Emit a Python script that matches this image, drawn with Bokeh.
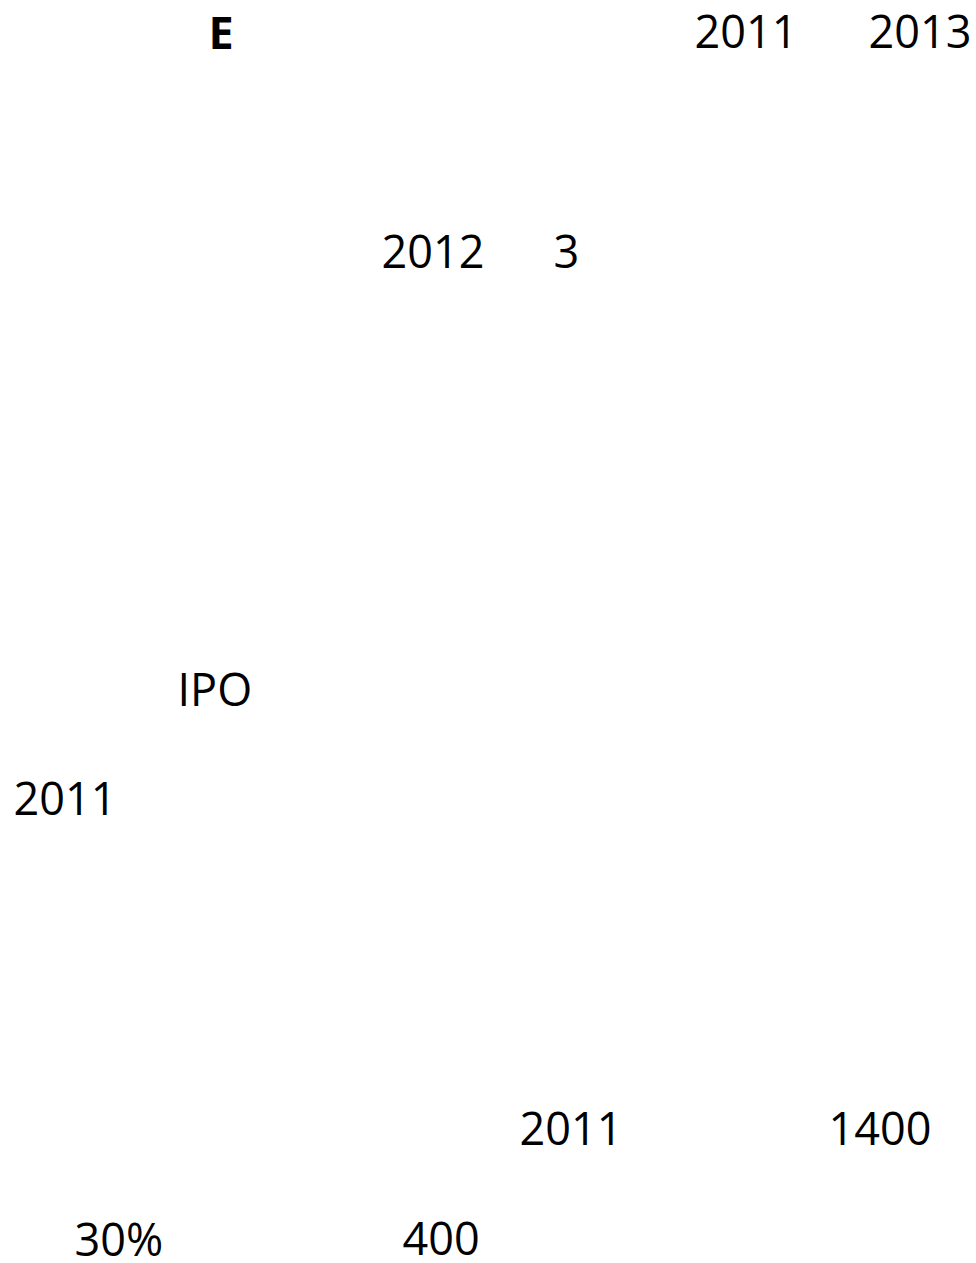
from bokeh.plotting import figure
from bokeh.models import Range1d, ColumnDataSource
from bokeh.core.properties import value
from bokeh.embed import file_html
from bokeh.resources import INLINE

# Visible text fragments (the rest of the reference is blank)
labels = ["E", "2011", "2013", "2012", "3", "IPO", "2011", "2011", "1400", "30%", "400"]
x_pos = [208, 694, 868, 381, 553, 177, 13, 519, 828, 74, 402]
y_base = [48, 48, 48, 268, 268, 705, 815, 1145, 1145, 1255, 1255]
weights = ["bold", "normal", "normal", "normal", "normal", "normal", "normal", "normal", "normal", "normal", "normal"]

W, H = 975, 1262
BASE_SHIFT = 17  # renderer places the alphabetic baseline lower than requested
p = figure(width=W, height=H, output_backend="svg", toolbar_location=None,
           x_range=Range1d(0, W), y_range=Range1d(H, 0),
           x_axis_type=None, y_axis_type=None, min_border=0)
p.grid.visible = False
p.outline_line_color = None
p.background_fill_color = "white"
p.border_fill_color = "white"

src = ColumnDataSource(dict(x=list(x_pos), y=[v - BASE_SHIFT for v in y_base],
                            t=labels, w=weights))
p.text(x="x", y="y", text="t", source=src, text_font=value("Open Sans"),
       text_font_size="45px", text_font_style="w", text_color="black",
       text_baseline="alphabetic", text_align="left")

open("out.html", "w").write(file_html(p, INLINE))
